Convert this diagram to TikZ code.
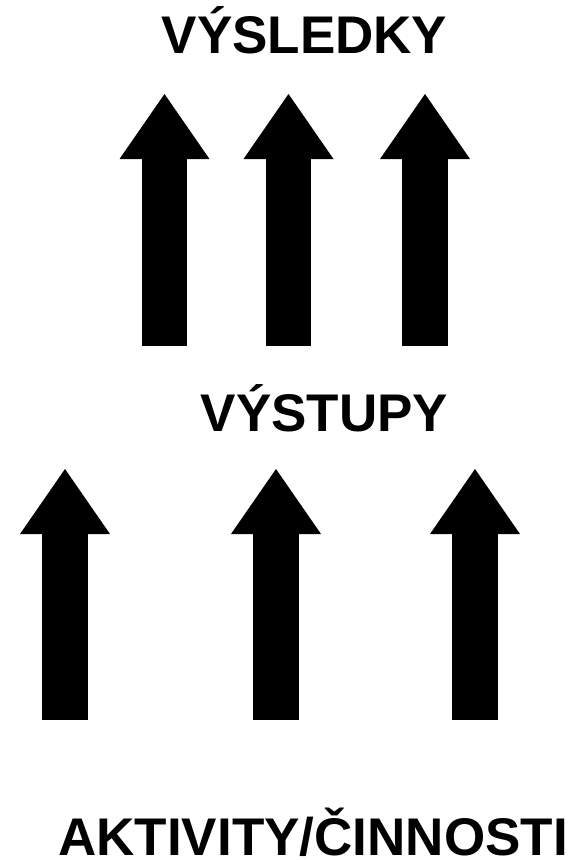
\documentclass[tikz,border=0pt]{standalone}
\usepackage{fontspec}
\setmainfont{Liberation Sans}
\usetikzlibrary{arrows.meta}
\begin{document}
\begin{tikzpicture}[
                x=1pt, y=-1pt,
                level/.style={font=\bfseries\fontsize{53}{60}\selectfont, inner sep=0pt, anchor=base},
                push/.style={line width=45.5pt, -{Triangle[width=90pt, length=65pt, line width=0pt]}}
            ]
            \useasboundingbox (0,0) rectangle (575,860);

            \node[level] (vysledky) at (304.5,53) {VÝSLEDKY};
            \node[level] (vystupy) at (324.5,431) {VÝSTUPY};
            \node[level] (aktivity) at (313,855) {AKTIVITY/ČINNOSTI};

            % outputs -> outcomes
            \coordinate (o1) at (164.5,346);
            \coordinate (r1) at (164.5,94);
            \coordinate (o2) at (288.5,346);
            \coordinate (r2) at (288.5,94);
            \coordinate (o3) at (425,346);
            \coordinate (r3) at (425,94);
            \draw[push] (o1) -- (r1);
            \draw[push] (o2) -- (r2);
            \draw[push] (o3) -- (r3);

            % activities -> outputs
            \coordinate (a1) at (65,720);
            \coordinate (p1) at (65,469);
            \coordinate (a2) at (276,720);
            \coordinate (p2) at (276,469);
            \coordinate (a3) at (475,720);
            \coordinate (p3) at (475,469);
            \draw[push] (a1) -- (p1);
            \draw[push] (a2) -- (p2);
            \draw[push] (a3) -- (p3);
        \end{tikzpicture}
\end{document}
